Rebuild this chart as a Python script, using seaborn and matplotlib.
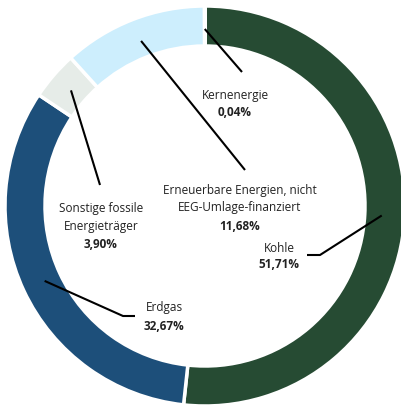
import matplotlib
matplotlib.use("Agg")
import numpy as np
import matplotlib.pyplot as plt
import seaborn as sns

# data
sources = ["Kohle", "Erdgas", "Sonstige fossile\nEnergieträger",
           "Erneuerbare Energien, nicht\nEEG-Umlage-finanziert", "Kernenergie"]
shares = [51.71, 32.67, 3.90, 11.68, 0.04]
colors = ["#264b33", "#1d4f7a", "#e6ece8", "#cdeefd", "#f2c500"]

sns.set_theme(style="white")
plt.rcParams["font.family"] = ["Open Sans", "DejaVu Sans"]

W, H = 402, 408
cx, cy, R = 205, 206, 200  # pixel centre / radius


def px(x, y):
    return (x - cx) / R, (cy - y) / R


fig = plt.figure(figsize=(W / 100, H / 100), dpi=100)
ax = fig.add_axes([0, 0, 1, 1])

wedges, _ = ax.pie(shares, colors=colors, startangle=90, counterclock=False,
                   radius=1.0,
                   wedgeprops=dict(width=0.2, edgecolor="white", linewidth=2.5))
ax.set_aspect("auto")
ax.set_xlim(-cx / R, (W - cx) / R)
ax.set_ylim((cy - H) / R, cy / R)
ax.axis("off")

# label positions (pixel coords): x centre, name centre y, percent centre y, leader path
label_pos = [
    (279, 248, 265, [(320, 255), (307, 255)]),
    (164, 308, 326, [(123, 316), (135, 316)]),
    (101, 217.5, 244, [(100, 185)]),
    (240, 199, 226, [(245, 170)]),
    (235, 95, 112, [(242, 72)]),
]

for w, name, val, (lx, ny, py_, path) in zip(wedges, sources, shares, label_pos):
    ang = np.deg2rad((w.theta1 + w.theta2) / 2)
    r0 = 0.885
    xs = [r0 * np.cos(ang)] + [px(*p)[0] for p in path]
    ys = [r0 * np.sin(ang)] + [px(*p)[1] for p in path]
    ax.plot(xs, ys, color="black", lw=1.5, solid_capstyle="butt")
    ax.text(*px(lx, ny), name, ha="center", va="center", fontsize=8.5,
            linespacing=1.45, color="#222222")
    ax.text(*px(lx, py_), f"{val:.2f}%".replace(".", ","), ha="center",
            va="center", fontsize=8.5, fontweight="bold", color="#222222")

fig.savefig("out.png", dpi=100)
